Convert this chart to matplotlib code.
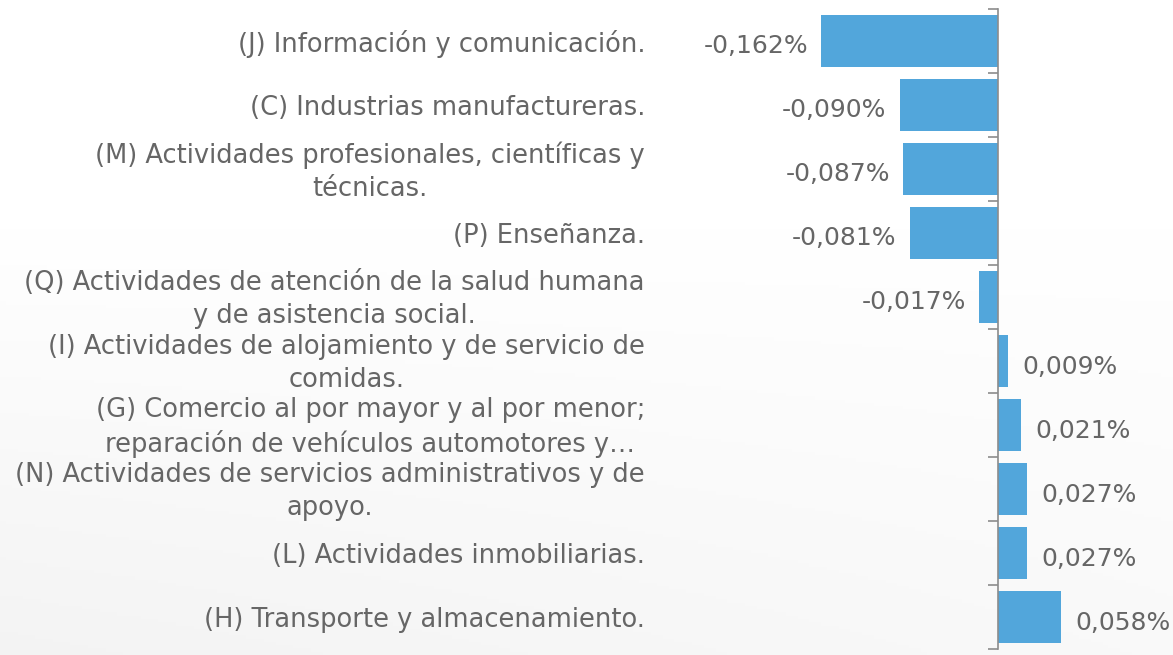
import numpy as np
import matplotlib.pyplot as plt
from matplotlib.transforms import blended_transform_factory

# -----------------------------
# Data
# -----------------------------
sectors = [
    '(J) Información y comunicación.',
    '(C) Industrias manufactureras.',
    '(M) Actividades profesionales, científicas y\ntécnicas.',
    '(P) Enseñanza.',
    '(Q) Actividades de atención de la salud humana\ny de asistencia social.',
    '(I) Actividades de alojamiento y de servicio de\ncomidas.',
    '(G) Comercio al por mayor y al por menor;\nreparación de vehículos automotores y…',
    '(N) Actividades de servicios administrativos y de\napoyo.',
    '(L) Actividades inmobiliarias.',
    '(H) Transporte y almacenamiento.',
]
values = [-0.162, -0.090, -0.087, -0.081, -0.017, 0.009, 0.021, 0.027, 0.027, 0.058]

bar_color = '#52A6DB'
text_color = '#666666'

plt.rcParams['font.family'] = ['DejaVu Sans']

fig = plt.figure(figsize=(11.73, 6.55), dpi=100)

# soft background gradient
bg = fig.add_axes([0, 0, 1, 1], zorder=-10)
gx, gy = np.meshgrid(np.linspace(0, 1, 200), np.linspace(0, 1, 200))
shade = 1 - 0.07 * np.clip(gy - 0.35, 0, 1) * (1 - 0.5 * gx)
bg.imshow(np.dstack([shade, shade, shade]), extent=[0, 1, 0, 1], aspect='auto',
          origin='upper', vmin=0, vmax=1)
bg.axis('off')

# axes: zero line at x=998px, 1092 px per 1%
px_per_unit = 1092
x_left, x_right = -0.25, 0.16
left_px = 998 + x_left * px_per_unit
right_px = 998 + x_right * px_per_unit
ax = fig.add_axes([left_px / 1173, 6 / 655, (right_px - left_px) / 1173, 640 / 655])
ax.patch.set_alpha(0)

y = np.arange(len(values))
ax.barh(y, values, height=0.8, color=bar_color, zorder=2)
ax.set_xlim(x_left, x_right)
ax.set_ylim(len(values) - 0.5, -0.5)

for s in ['top', 'right', 'bottom']:
    ax.spines[s].set_visible(False)
ax.spines['left'].set_position(('data', 0))
ax.spines['left'].set_color('#8c8c8c')
ax.spines['left'].set_linewidth(1.2)
ax.set_xticks([])
ax.set_yticks(np.arange(len(values) + 1) - 0.5)
ax.set_yticklabels([])
ax.tick_params(axis='y', direction='out', length=7, color='#8c8c8c', width=1.2)

# value labels
for yi, v in zip(y, values):
    label = f'{v:.3f}'.replace('.', ',') + '%'
    if v < 0:
        ax.text(v - 0.012, yi + 0.08, label, ha='right', va='center',
                fontsize=18, color=text_color)
    else:
        ax.text(v + 0.013, yi + 0.1, label, ha='left', va='center',
                fontsize=18, color=text_color)

# category labels, right-aligned left of the bars
trans = blended_transform_factory(fig.transFigure, ax.transData)
for yi, name in zip(y, sectors):
    ax.text(645 / 1173, yi + 0.04, name, transform=trans, ha='right', va='center',
            multialignment='center', fontsize=18.5, color=text_color,
            linespacing=1.35)

fig.savefig('out.png', dpi=100)
